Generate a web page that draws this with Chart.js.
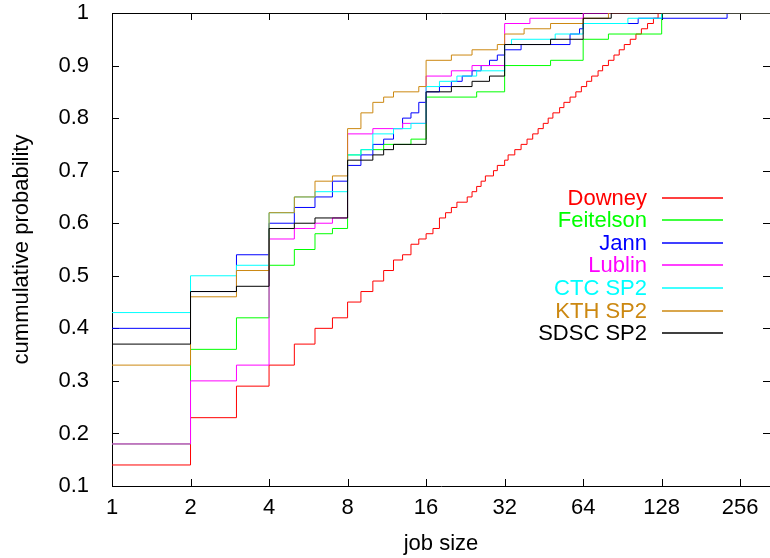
<!DOCTYPE html>
<html>
<head>
<meta charset="utf-8">
<script src="https://cdn.jsdelivr.net/npm/chart.js@4.4.0/dist/chart.umd.min.js"></script>
<style>
  html, body { margin: 0; padding: 0; background: #fff; }
  #cdf { display: block; }
</style>
</head>
<body>
<canvas id="cdf" width="770" height="558"></canvas>
<script>
// ---- data: job size -> cumulative probability ----
const X_TICKS = [1, 2, 4, 8, 16, 32, 64, 128, 256];
const Y_TICKS = [0.1, 0.2, 0.3, 0.4, 0.5, 0.6, 0.7, 0.8, 0.9, 1];
const X_MAX = 333;

const downeySizes = [1, 2, 3, 4, 5, 6, 7, 8, 9, 10, 11, 12, 13, 14, 15, 16, 17, 18, 19, 20, 21,
  23, 24, 25, 26, 27, 29, 30, 32, 33, 35, 37, 39, 41, 43, 45, 47, 49, 52, 54, 57, 60, 63,
  66, 69, 73, 76, 80, 84, 88, 92, 97, 102, 107, 113, 119, 124, 333];
const downeyProb = [0.14, 0.23, 0.29, 0.33, 0.37, 0.40, 0.42, 0.45, 0.47, 0.49, 0.51, 0.53, 0.54, 0.56, 0.57, 0.58, 0.59, 0.61, 0.62, 0.63, 0.64,
  0.65, 0.66, 0.67, 0.68, 0.69, 0.70, 0.71, 0.72, 0.73, 0.74, 0.75, 0.76, 0.77, 0.78, 0.79, 0.80, 0.81, 0.82, 0.83, 0.84, 0.85, 0.86,
  0.87, 0.88, 0.89, 0.90, 0.91, 0.92, 0.93, 0.94, 0.95, 0.96, 0.97, 0.98, 0.99, 1.00, 1.00];

const feitelsonSizes = [1, 2, 3, 4, 5, 6, 7, 8, 9, 11, 14, 16, 25, 32, 48, 64, 80, 128, 333];
const feitelsonProb = [0.18, 0.36, 0.42, 0.52, 0.55, 0.58, 0.59, 0.73, 0.74, 0.75, 0.76, 0.84, 0.85, 0.90, 0.91, 0.95, 0.96, 1.00, 1.00];

const jannSizes = [1, 2, 3, 4, 5, 6, 7, 8, 9, 10, 11, 12, 13, 14, 15, 16, 18, 20, 22, 24, 26, 28, 30, 32, 37, 57, 62, 64, 104, 228, 333];
const jannProb = [0.40, 0.47, 0.54, 0.60, 0.63, 0.65, 0.68, 0.71, 0.73, 0.75, 0.76, 0.78, 0.80, 0.81, 0.83, 0.85, 0.86, 0.87, 0.88, 0.89, 0.90, 0.91, 0.92, 0.93, 0.94, 0.96, 0.97, 0.98, 0.99, 1.00, 1.00];

const lublinSizes = [1, 2, 3, 4, 5, 6, 7, 8, 10, 13, 16, 20, 24, 32, 40, 64, 333];
const lublinProb = [0.18, 0.30, 0.33, 0.57, 0.59, 0.60, 0.61, 0.77, 0.78, 0.79, 0.88, 0.89, 0.90, 0.98, 0.99, 1.00, 1.00];

const ctcSizes = [1, 2, 3, 4, 5, 6, 8, 9, 10, 12, 14, 16, 18, 21, 25, 32, 34, 50, 64, 95, 128, 333];
const ctcProb = [0.43, 0.50, 0.52, 0.62, 0.65, 0.66, 0.73, 0.74, 0.77, 0.78, 0.79, 0.86, 0.87, 0.88, 0.89, 0.94, 0.95, 0.96, 0.98, 0.99, 1.00, 1.00];

const kthSizes = [1, 2, 3, 4, 5, 6, 7, 8, 9, 10, 11, 12, 15, 16, 20, 24, 30, 32, 38, 48, 64, 80, 333];
const kthProb = [0.33, 0.46, 0.51, 0.62, 0.65, 0.68, 0.69, 0.78, 0.81, 0.83, 0.84, 0.85, 0.86, 0.91, 0.92, 0.93, 0.94, 0.96, 0.97, 0.98, 0.99, 1.00, 1.00];

const sdscSizes = [1, 2, 3, 4, 5, 6, 8, 10, 11, 12, 16, 20, 24, 28, 32, 48, 64, 82, 333];
const sdscProb = [0.37, 0.47, 0.48, 0.59, 0.60, 0.61, 0.72, 0.73, 0.74, 0.75, 0.85, 0.86, 0.87, 0.88, 0.94, 0.95, 0.99, 1.00, 1.00];

// ---- look ----
const FONT = '"Liberation Sans", Arial, Helvetica, sans-serif';
const FONT_SIZE = 22;
const TICK_LEN = 7;

function series(label, sizes, probs, color, order) {
    return {
        label: label,
        order: order,
        data: sizes.map((s, i) => ({ x: s, y: probs[i] })),
        borderColor: color,
        backgroundColor: color,
        borderWidth: 1,
        pointRadius: 0,
        pointHoverRadius: 0,
        stepped: 'before',
        fill: false
    };
}

// gnuplot style: plain box with inward ticks on all four sides
const framePlugin = {
    id: 'frame',
    beforeDatasetsDraw(chart) {
        const { ctx, chartArea: a, scales } = chart;
        ctx.save();
        ctx.strokeStyle = '#000';
        ctx.lineWidth = 1;
        ctx.beginPath();
        ctx.rect(a.left + 0.5, a.top + 0.5, a.right - a.left, a.bottom - a.top);
        X_TICKS.forEach(v => {
            const px = Math.round(scales.x.getPixelForValue(v)) + 0.5;
            ctx.moveTo(px, a.bottom);
            ctx.lineTo(px, a.bottom - TICK_LEN);
            ctx.moveTo(px, a.top);
            ctx.lineTo(px, a.top + TICK_LEN);
        });
        Y_TICKS.forEach(v => {
            const py = Math.round(scales.y.getPixelForValue(v)) + 0.5;
            ctx.moveTo(a.left, py);
            ctx.lineTo(a.left + TICK_LEN, py);
            ctx.moveTo(a.right, py);
            ctx.lineTo(a.right - TICK_LEN, py);
        });
        ctx.stroke();
        ctx.restore();
    }
};

// key: right aligned coloured names with a short line sample after each
const keyPlugin = {
    id: 'key',
    afterDatasetsDraw(chart) {
        const ctx = chart.ctx;
        ctx.save();
        ctx.font = FONT_SIZE + 'px ' + FONT;
        ctx.textAlign = 'right';
        ctx.textBaseline = 'middle';
        chart.data.datasets.forEach((ds, i) => {
            const y = Math.round(197.5 + i * 22.6);
            ctx.fillStyle = ds.borderColor;
            ctx.fillText(ds.label, 647, y + 1);
            ctx.strokeStyle = ds.borderColor;
            ctx.lineWidth = 1.4;
            ctx.beginPath();
            ctx.moveTo(662, y);
            ctx.lineTo(723, y);
            ctx.stroke();
        });
        ctx.restore();
    }
};

const ctx = document.getElementById('cdf');
new Chart(ctx, {
    type: 'line',
    data: {
        datasets: [
            series('Downey', downeySizes, downeyProb, '#ff0000', 7),
            series('Feitelson', feitelsonSizes, feitelsonProb, '#00ff00', 6),
            series('Jann', jannSizes, jannProb, '#0000ff', 5),
            series('Lublin', lublinSizes, lublinProb, '#ff00ff', 4),
            series('CTC SP2', ctcSizes, ctcProb, '#00ffff', 3),
            series('KTH SP2', kthSizes, kthProb, '#cc8811', 2),
            series('SDSC SP2', sdscSizes, sdscProb, '#000000', 1)
        ]
    },
    options: {
        responsive: false,
        animation: false,
        events: [],
        layout: { padding: { top: 13, right: 0, bottom: 0, left: 0 } },
        plugins: {
            legend: { display: false },
            tooltip: { enabled: false }
        },
        scales: {
            x: {
                type: 'logarithmic',
                min: 1,
                max: X_MAX,
                afterBuildTicks: s => { s.ticks = X_TICKS.map(v => ({ value: v })); },
                afterFit: s => { s.height = 72; s.paddingLeft = 0; s.paddingRight = 0; },
                grid: { display: false },
                border: { display: false },
                ticks: {
                    autoSkip: false,
                    maxRotation: 0,
                    padding: 1,
                    color: '#000',
                    font: { family: FONT, size: FONT_SIZE },
                    callback: v => String(v)
                },
                title: {
                    display: true,
                    text: 'job size',
                    color: '#000',
                    font: { family: FONT, size: FONT_SIZE },
                    padding: { top: 0, bottom: 1 }
                }
            },
            y: {
                type: 'linear',
                min: 0.1,
                max: 1,
                afterBuildTicks: s => { s.ticks = Y_TICKS.map(v => ({ value: v })); },
                afterFit: s => { s.width = 112; s.paddingTop = 0; s.paddingBottom = 0; },
                grid: { display: false },
                border: { display: false },
                ticks: {
                    padding: 15,
                    color: '#000',
                    font: { family: FONT, size: FONT_SIZE },
                    callback: v => String(Math.round(v * 10) / 10)
                },
                title: {
                    display: true,
                    text: 'cummulative probability',
                    color: '#000',
                    font: { family: FONT, size: FONT_SIZE },
                    padding: { top: 9, bottom: 0 }
                }
            }
        }
    },
    plugins: [framePlugin, keyPlugin]
});
</script>
</body>
</html>
